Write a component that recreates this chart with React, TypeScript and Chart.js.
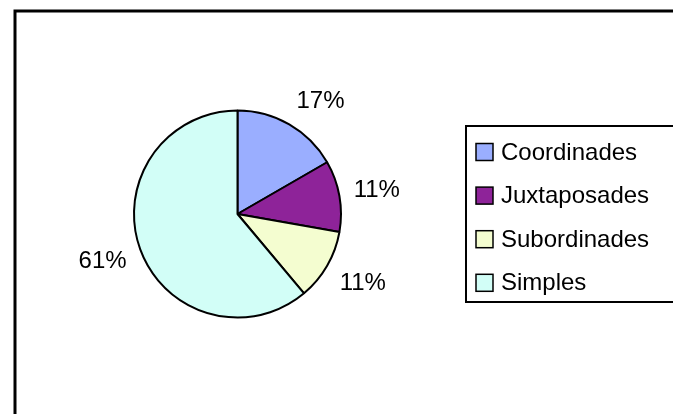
import React, { useEffect, useRef } from "react";
import { Chart, registerables } from "chart.js";

Chart.register(...registerables);

const categories = ["Coordinades", "Juxtaposades", "Subordinades", "Simples"];
const values = [3, 2, 2, 11];
const colors = ["#9AAEFF", "#8E2399", "#F4FDD0", "#D2FEF7"];

const FONT = "24px 'Liberation Sans', Arial, sans-serif";

const decorPlugin = {
  id: "decor",
  beforeDraw(chart: any) {
    const ctx = chart.ctx;
    ctx.save();
    ctx.fillStyle = "#ffffff";
    ctx.fillRect(0, 0, chart.width, chart.height);
    ctx.strokeStyle = "#000";
    ctx.lineWidth = 3;
    ctx.strokeRect(15, 11, 800, 600);
    ctx.restore();
  },
  afterDraw(chart: any) {
    const ctx = chart.ctx;
    const meta = chart.getDatasetMeta(0);
    const data = chart.data.datasets[0].data as number[];
    const total = data.reduce((a: number, b: number) => a + b, 0);
    ctx.save();
    ctx.font = FONT;
    ctx.fillStyle = "#000";
    ctx.textAlign = "center";
    ctx.textBaseline = "middle";
    const clamp = (v: number) => Math.max(-1, Math.min(1, v));
    meta.data.forEach((arc: any, i: number) => {
      const { x, y, startAngle, endAngle, outerRadius } = arc.getProps(
        ["x", "y", "startAngle", "endAngle", "outerRadius"],
        true
      );
      const mid = (startAngle + endAngle) / 2;
      const txt = Math.round((data[i] / total) * 100) + "%";
      const w = ctx.measureText(txt).width;
      const h = 20;
      const d = outerRadius + 14.5;
      const cx = x + d * Math.cos(mid) + (w / 2) * clamp(2 * Math.cos(mid));
      const cy = y + d * Math.sin(mid) + (h / 2) * clamp(2 * Math.sin(mid));
      ctx.fillText(txt, cx, cy);
    });

    // legend
    ctx.lineWidth = 2;
    ctx.strokeStyle = "#000";
    ctx.strokeRect(466, 126, 400, 176);
    ctx.textAlign = "left";
    const labels = chart.data.labels as string[];
    const bg = chart.data.datasets[0].backgroundColor as string[];
    labels.forEach((lab: string, i: number) => {
      const cy = 152 + i * 43.6;
      ctx.fillStyle = bg[i];
      ctx.fillRect(476, cy - 8.5, 17, 17);
      ctx.lineWidth = 1.5;
      ctx.strokeRect(476, cy - 8.5, 17, 17);
      ctx.fillStyle = "#000";
      ctx.fillText(lab, 501, cy + 1);
    });
    ctx.restore();
  },
};

export default function App() {
  const ref = useRef<HTMLCanvasElement | null>(null);
  useEffect(() => {
    if (!ref.current) return;
    const chart = new Chart(ref.current, {
      type: "pie",
      data: {
        labels: categories,
        datasets: [
          {
            data: values,
            backgroundColor: colors,
            borderColor: "#000",
            borderWidth: 2,
          },
        ],
      },
      options: {
        responsive: false,
        animation: false,
        radius: 103.5,
        layout: { padding: { left: 127.5, right: 325.5, top: 104, bottom: 90 } },
        plugins: {
          legend: { display: false },
          tooltip: { enabled: false },
        },
      } as any,
      plugins: [decorPlugin],
    });
    return () => chart.destroy();
  }, []);
  return (
    <div style={{ position: "absolute", left: 0, top: 0, width: 673, height: 414 }}>
      <canvas ref={ref} width={673} height={414} />
    </div>
  );
}
